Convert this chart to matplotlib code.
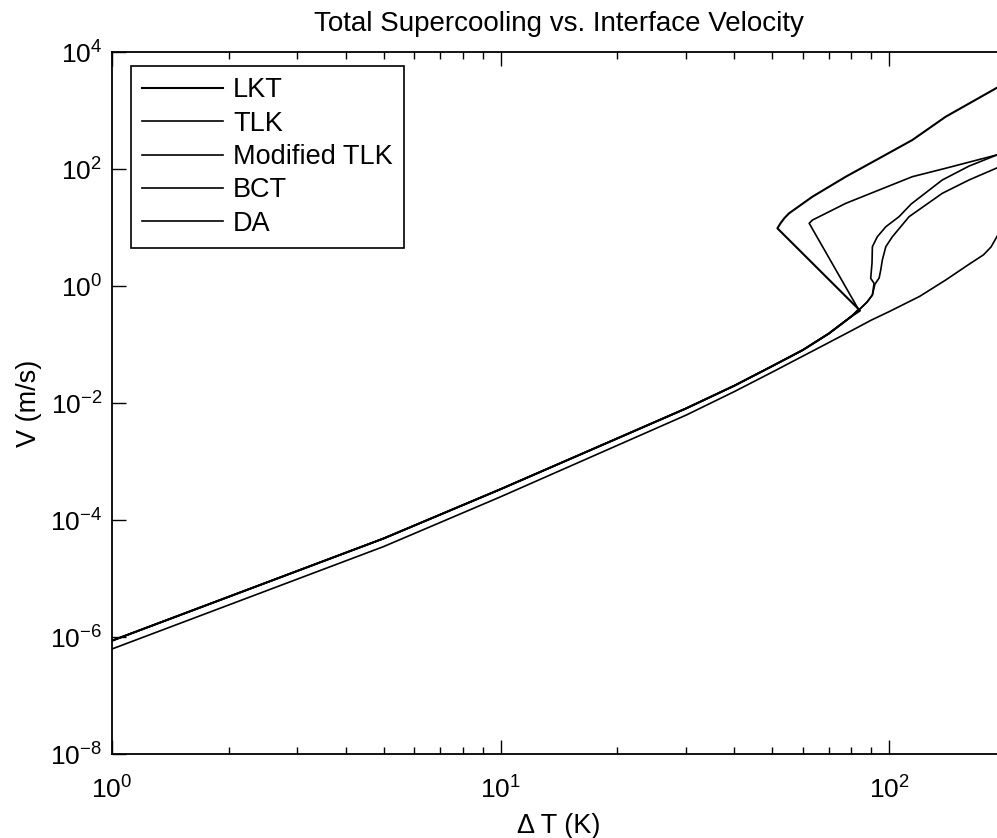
import matplotlib
matplotlib.use("Agg")
import matplotlib.pyplot as plt

# --- fonts: Helvetica-like look ---
plt.rcParams['font.family'] = ['Liberation Sans', 'DejaVu Sans']
plt.rcParams['mathtext.fontset'] = 'custom'
plt.rcParams['mathtext.rm'] = 'Liberation Sans'
plt.rcParams['mathtext.it'] = 'Liberation Sans'
plt.rcParams['mathtext.default'] = 'regular'

# low supercooling part, where LKT / TLK / Modified TLK / BCT lie on one line
dT_low = [1, 2, 5, 10, 20, 30, 40, 50, 60, 70, 80]
V_low = [8.65e-7, 4.89e-6, 4.83e-5, 3.36e-4, 2.49e-3, 8.05e-3,
         1.98e-2, 4.26e-2, 8.05e-2, 0.154, 0.302]

# branches above ~80 K
dT_lkt = [84.2, 51.6, 52.6, 53.8, 55.3, 63.5, 77.4, 94.3, 114.8, 139.9, 190]
V_lkt = [0.38, 9.69, 11.9, 14.5, 17.5, 33.6, 73.9, 152, 313, 783, 2470]

dT_tlk = [83.4, 62.3, 63.5, 66.1, 77.4, 94.3, 114.8, 139.9, 190]
V_tlk = [0.40, 11.8, 13.4, 15.3, 25.9, 43.8, 73.9, 103, 175]

dT_mtlk = [84.7, 87.8, 90.6, 91.5, 89.7, 90.4, 90.6, 93.3, 98.1, 106.1,
           114.0, 137.1, 160.6, 190]
V_mtlk = [0.421, 0.532, 0.702, 1.11, 1.35, 2.47, 4.70, 6.96, 10.3, 15.3,
          25.2, 64.9, 112, 175]

dT_bct = [84.7, 87.8, 90.6, 92.0, 94.3, 95.2, 96.1, 98.1, 102.0, 112.6,
          137.1, 160.6, 190]
V_bct = [0.421, 0.532, 0.702, 1.08, 1.37, 1.88, 2.78, 4.70, 6.96, 15.3,
         38.4, 64.9, 105]

# DA stays a little below the others over the whole range
dT_da = [1, 2, 5, 10, 20, 30, 40, 50, 60, 70, 80, 90, 100, 120, 140,
         160, 175, 183, 190]
V_da = [6.24e-7, 3.54e-6, 3.51e-5, 2.49e-4, 1.89e-3, 6.18e-3, 1.57e-2,
        3.36e-2, 6.33e-2, 0.108, 0.172, 0.261, 0.364, 0.667, 1.27,
        2.31, 3.41, 4.64, 7.2]

labels = ['LKT', 'TLK', 'Modified TLK', 'BCT', 'DA']
yticks = [1e-8, 1e-6, 1e-4, 1e-2, 1e0, 1e2, 1e4]

fig = plt.figure(figsize=(9.97, 8.38), dpi=100)
# axes runs a little past the right edge of the picture (cropped scan)
ax = fig.add_axes([112 / 997, 84 / 838, 894 / 997, 702 / 838])

curves = [
    (dT_low + dT_lkt, V_low + V_lkt),
    (dT_low + dT_tlk, V_low + V_tlk),
    (dT_low + dT_mtlk, V_low + V_mtlk),
    (dT_low + dT_bct, V_low + V_bct),
    (dT_da, V_da),
]
for (x, y), lab in zip(curves, labels):
    lw = 1.5 if lab == 'LKT' else 1.2
    ax.plot(x, y, color='black', lw=lw, label=lab)

ax.set_xscale('log')
ax.set_yscale('log')
ax.set_xlim(1, 200)
ax.set_ylim(1e-8, 1e4)
ax.set_yticks(yticks)
ax.yaxis.set_minor_locator(matplotlib.ticker.NullLocator())

# right side is cut off in the scan, so no ticks there
ax.tick_params(which='both', direction='in', top=True, right=False,
               labelsize=19, width=1)
ax.tick_params(axis='y', pad=7)
ax.tick_params(axis='x', pad=16)
ax.tick_params(which='major', length=10)
ax.tick_params(which='minor', length=5)
for s in ax.spines.values():
    s.set_linewidth(1.3)

ax.set_title('Total Supercooling vs. Interface Velocity', fontsize=20, pad=15)
ax.set_xlabel('\u0394 T (K)', fontsize=19.5, labelpad=7)
ax.set_ylabel('V (m/s)', fontsize=19.5, labelpad=6)

leg = ax.legend(loc='upper left', bbox_to_anchor=(0.021, 0.980),
                borderaxespad=0, fontsize=19.5, handlelength=3.0,
                handletextpad=0.35, labelspacing=0.27, borderpad=0.42,
                fancybox=False, framealpha=1, edgecolor='black')
leg.get_frame().set_linewidth(1.2)

fig.savefig('out.png', dpi=100)
